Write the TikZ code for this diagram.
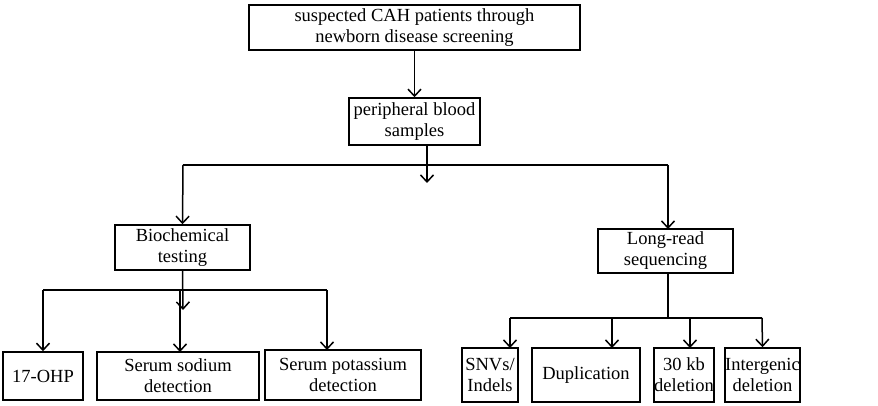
\documentclass[tikz,border=0pt]{standalone}
\usepackage{fontspec}
\setmainfont{Liberation Serif}
\usetikzlibrary{arrows.meta}
\begin{document}
\begin{tikzpicture}[x=1pt,y=-1pt,
 box/.style={draw,line width=1.5pt,align=center,inner sep=0pt,font=\fontsize{18.5}{21}\selectfont},
 ln/.style={line width=1.5pt},
 ar/.style={ln,-{Straight Barb[length=7pt,width=13pt,line width=1.5pt]}}]
\useasboundingbox (0,0) rectangle (878,406);
\node[box,minimum width=331,minimum height=45] (top) at (414.5,27.5) {suspected CAH patients through\\newborn disease screening};
\node[box,minimum width=131,minimum height=47] (pb) at (414.5,121.5) {peripheral blood\\samples};
\node[box,minimum width=135,minimum height=45] (bio) at (182.5,247.5) {Biochemical\\testing};
\node[box,minimum width=135,minimum height=44] (lr) at (665.5,251) {Long-read\\sequencing};
\node[box,minimum width=80,minimum height=48] (o) at (43,376) {17-OHP};
\node[box,minimum width=162,minimum height=48] (na) at (178,376) {Serum sodium\\detection};
\node[box,minimum width=156,minimum height=50] (k) at (343,375) {Serum potassium\\detection};
\node[box,minimum width=56,minimum height=54] (snv) at (490,375) {SNVs/\\Indels};
\node[box,minimum width=108,minimum height=54] (dup) at (586,375) {Duplication};
\node[box,minimum width=60,minimum height=54] (kb) at (684,375) {30 kb\\deletion};
\node[box,minimum width=75,minimum height=54] (ig) at (762.5,375) {Intergenic\\deletion};
\draw[ar] (top.south) -- (pb.north);
\coordinate (j) at (427,183);
\draw[ar] (427,145) -- (j);
\draw[ln] (183,165) -- (668,165);
\draw[ar] (183,165) -- (bio.north);
\draw[ar] (668,165) -- (668,229);
\draw[ar] (bio.south) -- (183,310);
\draw[ln] (43,290) -- (327,290);
\draw[ar] (43,290) -- (o.north);
\draw[ar] (180,290) -- (180,352);
\draw[ar] (327,290) -- (327,350);
\draw[ln] (668,273) -- (668,318);
\draw[ln] (510,318) -- (762,318);
\draw[ar] (510,318) -- (510,348);
\draw[ar] (612,318) -- (612,348);
\draw[ar] (690,318) -- (690,348);
\draw[ar] (762,318) -- (ig.north);
\end{tikzpicture}
\end{document}
